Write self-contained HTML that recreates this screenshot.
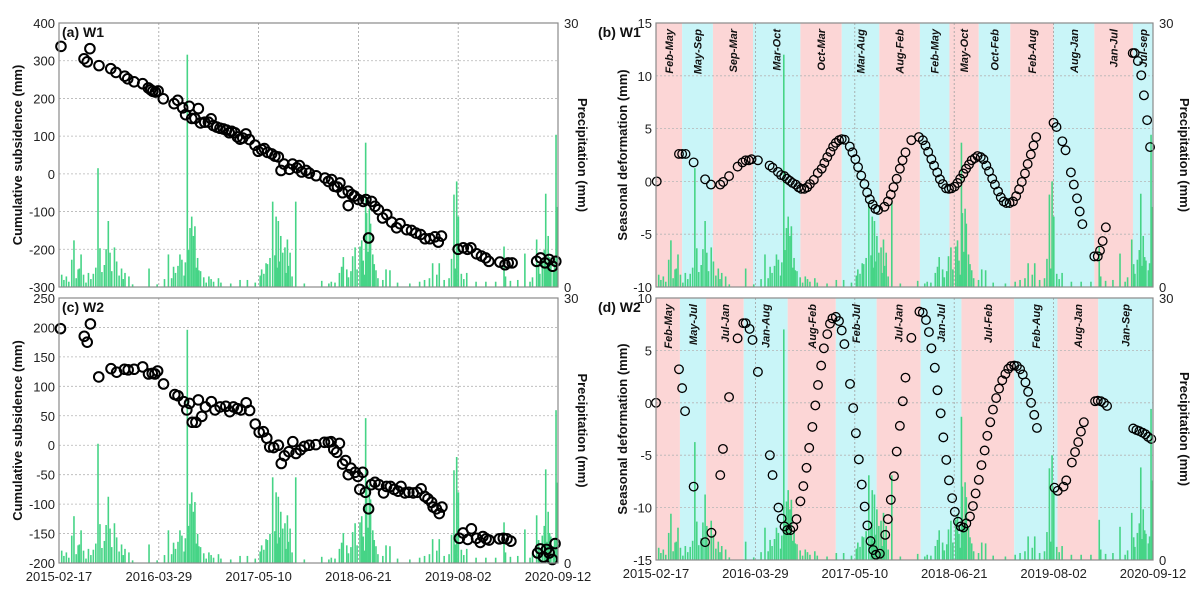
<!DOCTYPE html>
<html><head><meta charset="utf-8">
<style>
body{margin:0;background:#fff;}
svg{display:block;font-family:"Liberation Sans",Arial,sans-serif;}
</style></head>
<body>
<svg id="chart" width="1204" height="596" viewBox="0 0 1204 596" xmlns="http://www.w3.org/2000/svg"></svg>
<script>
const dateTicks = ["2015-02-17","2016-03-29","2017-05-10","2018-06-21","2019-08-02","2020-09-12"];
const totalDays = 2034;
const precipDays = [11,52,61,83,90,110,120,159,167,192,201,208,226,255,269,285,300,367,400,446,459,467,493,501,523,534,541,548,554,577,600,611,650,700,738,768,800,826,844,860,871,885,894,904,912,921,931,942,965,1000,1071,1100,1125,1143,1152,1159,1173,1197,1207,1227,1234,1250,1254,1265,1270,1279,1292,1333,1349,1380,1430,1470,1490,1510,1523,1550,1570,1590,1610,1621,1628,1662,1700,1740,1780,1814,1840,1870,1899,1920,1947,1960,1984,1994,2005,2026,2030];
const precipMm = [1.4,3.1,5.3,2.1,3.7,0.5,1.6,13.5,4.4,4.3,7.5,3.9,4.5,2.1,1.6,1.2,0.3,2.1,0.3,3.7,1.0,2.3,3.7,3.1,26.4,6.7,8.0,5.8,6.9,1.8,0.5,1.2,1.0,0.4,0.8,0.8,0.5,2.0,2.7,3.3,9.7,8.0,7.5,5.8,3.9,4.5,5.4,3.9,9.7,0.4,0.7,0.4,0.5,1.6,2.3,3.4,2.0,3.5,4.5,4.6,5.3,16.4,8.4,8.9,7.2,3.7,1.9,2.0,1.9,0.5,0.4,0.6,0.8,1.0,2.7,2.7,0.8,1.0,10.5,12.0,8.0,1.6,0.6,0.6,0.6,4.6,0.7,0.8,3.8,0.6,5.4,1.5,10.6,5.8,3.0,17.3,9.1];
const precipDays2 = [20,30,40,70,78,100,130,140,150,175,185,215,235,245,262,430,475,485,510,515,528,560,565,570,590,620,630,660,820,835,850,880,890,900,925,935,950,1110,1180,1190,1215,1240,1245,1260,1285,1300,1320,1540,1600,1615,1640,1650,1820,1930,1955,1970,1978,1990,2000,2015,2020];
const precipMm2 = [0.8,1.2,0.6,1.0,2.0,1.4,0.9,1.5,2.2,1.7,2.5,1.8,2.9,1.3,0.9,0.9,1.6,2.4,1.3,2.8,4.2,2.2,3.3,1.9,1.1,0.9,0.6,0.5,1.3,1.5,2.6,3.6,2.2,2.9,1.6,2.4,1.2,0.6,1.1,1.8,2.0,3.0,1.4,4.0,2.6,1.0,0.8,1.4,3.2,2.1,1.5,0.9,1.2,1.1,2.6,3.1,4.2,2.4,3.4,1.9,2.7];

const w1Days = [8,102,115,126,163,211,232,268,280,306,341,364,374,382,393,404,425,469,484,504,516,531,541,554,568,577,594,609,620,629,643,656,670,683,694,704,717,727,738,749,762,776,799,812,826,837,850,867,880,894,905,917,939,952,969,980,989,1007,1020,1048,1084,1098,1111,1122,1135,1145,1156,1179,1193,1204,1220,1179,1240,1251,1262,1274,1288,1302,1319,1336,1356,1376,1390,1417,1437,1455,1474,1492,1512,1532,1546,1559,1627,1648,1665,1679,1702,1722,1739,1752,1797,1818,1831,1847,1947,1963,1981,1998,2012,2025];
const w1Cum = [338,305,297,332,287,279,269,259,252,244,239,228,223,219,217,220,199,186,195,175,157,179,147,147,173,135,137,137,146,128,124,121,119,116,109,113,109,98,92,95,106,91,76,60,64,67,57,53,47,45,9,26,12,26,16,22,5,9,2,-5,-11,-20,-15,-33,-35,-24,-50,-46,-55,-59,-68,-84,-73,-68,-170,-73,-86,-95,-117,-108,-128,-143,-132,-148,-150,-157,-161,-172,-172,-167,-181,-165,-200,-196,-200,-196,-212,-218,-223,-232,-234,-241,-236,-236,-232,-223,-236,-227,-245,-232];

const w2Days = [6,103,115,128,162,212,235,267,282,306,341,365,380,391,402,426,472,485,508,521,532,543,558,568,582,597,621,636,657,680,696,711,727,742,763,777,800,816,833,847,859,875,894,906,919,937,953,966,984,1000,1020,1047,1082,1098,1109,1120,1132,1143,1156,1168,1179,1190,1207,1218,1226,1238,1249,1262,1273,1288,1304,1323,1335,1351,1366,1382,1394,1410,1426,1444,1460,1476,1491,1504,1519,1525,1538,1550,1561,1632,1647,1666,1681,1702,1717,1728,1741,1753,1795,1811,1826,1842,1951,1962,1975,1987,1998,2011,2022];
const w2Cum = [198,185,175,206,116,130,124,129,128,129,133,121,122,121,126,104,86,84,74,60,71,39,39,77,49,65,74,60,65,66,57,65,62,60,72,59,36,22,23,12,-3,-4,0,-31,-18,-11,6,-14,-8,-2,0,1,5,5,6,-7,-12,3,-32,-26,-50,-39,-46,-53,-75,-46,-80,-108,-67,-63,-67,-81,-70,-70,-75,-78,-70,-81,-80,-81,-80,-74,-87,-91,-97,-105,-108,-116,-105,-158,-149,-160,-142,-158,-165,-155,-159,-161,-159,-158,-159,-163,-183,-176,-190,-177,-183,-194,-167];

const w1sDays = [3,94,107,121,154,201,225,263,275,299,334,354,367,380,391,417,465,477,499,512,525,536,548,559,572,583,594,607,619,630,646,662,678,689,701,714,725,736,749,760,772,793,804,816,827,840,853,864,875,887,898,909,935,949,961,972,985,998,1009,1021,1045,1076,1092,1103,1114,1127,1138,1151,1162,1174,1187,1199,1210,1222,1234,1245,1258,1269,1281,1292,1305,1316,1329,1340,1352,1363,1376,1387,1400,1411,1423,1434,1447,1461,1474,1486,1497,1510,1521,1534,1545,1556,1627,1639,1663,1676,1698,1710,1723,1734,1745,1794,1808,1817,1828,1841,1951,1959,1972,1986,1997,2010,2022];
const w1Seas = [0,2.6,2.6,2.6,1.8,0.2,-0.3,-0.3,-0.05,0.5,1.4,1.8,2.0,2.0,2.1,2.0,1.5,1.3,0.9,0.6,0.5,0.25,0.05,-0.15,-0.3,-0.55,-0.7,-0.7,-0.55,-0.25,0.15,0.8,1.2,1.75,2.3,2.8,3.3,3.65,3.9,4.0,3.95,3.3,2.75,2.1,1.35,0.55,-0.25,-1.05,-1.7,-2.2,-2.6,-2.7,-2.4,-1.9,-1.25,-0.55,0.25,1.2,2.0,2.75,3.9,4.2,3.9,3.4,2.8,2.1,1.5,0.85,0.2,-0.25,-0.65,-0.7,-0.65,-0.5,-0.15,0.25,0.75,1.2,1.6,2.0,2.2,2.4,2.3,2.1,1.5,0.95,0.25,-0.3,-0.95,-1.5,-1.9,-2.05,-2.05,-1.9,-1.4,-0.75,-0.05,0.75,1.65,2.55,3.4,4.2,5.55,5.15,3.8,2.95,0.85,-0.3,-1.6,-2.85,-4.05,-7.1,-7.1,-6.55,-5.65,-4.35,12.15,12.15,11.4,10.05,8.15,5.8,3.25];

const w2sDays = [0,94,107,119,154,201,227,263,274,299,334,357,367,383,395,417,466,477,501,514,526,537,550,562,575,591,603,616,627,640,652,663,676,687,701,712,722,736,749,760,771,794,807,818,830,842,854,865,878,889,900,916,938,949,961,974,985,998,1010,1021,1045,1078,1092,1105,1117,1127,1141,1152,1165,1176,1188,1199,1212,1223,1236,1247,1258,1270,1285,1297,1308,1321,1332,1345,1356,1368,1379,1392,1404,1417,1430,1442,1453,1466,1477,1490,1501,1512,1523,1535,1548,1559,1631,1644,1668,1679,1702,1715,1728,1739,1751,1797,1808,1821,1833,1846,1953,1966,1978,1991,2003,2014,2027];
const w2Seas = [0,3.2,1.4,-0.8,-8.0,-13.3,-12.4,-6.9,-4.4,0.55,6.15,7.6,7.6,7.05,6.0,2.95,-5.0,-6.9,-10.0,-11.05,-11.8,-12.15,-12.15,-11.85,-11.1,-9.4,-7.95,-6.2,-4.3,-2.3,-0.25,1.7,3.55,5.2,6.55,7.55,8.05,8.2,7.8,6.9,5.6,1.8,-0.5,-2.9,-5.4,-7.8,-9.9,-11.7,-13.2,-14.05,-14.5,-14.4,-12.6,-11.1,-9.25,-7.0,-4.65,-2.2,0.15,2.4,6.2,8.7,8.6,7.9,6.75,5.2,3.35,1.2,-1.0,-3.3,-5.45,-7.4,-9.1,-10.4,-11.35,-11.8,-11.9,-11.5,-10.85,-9.85,-8.65,-7.35,-5.95,-4.55,-3.15,-1.85,-0.65,0.45,1.35,2.15,2.75,3.25,3.5,3.55,3.5,3.2,2.7,1.95,1.05,0.0,-1.15,-2.4,-8.1,-8.4,-8.0,-7.4,-5.7,-4.7,-3.75,-2.75,-1.85,0.15,0.2,0.15,0.0,-0.3,-2.45,-2.6,-2.7,-2.85,-3.0,-3.25,-3.45];

const bandsB = [0,107,233,397,591,760,914,1080,1201,1321,1450,1627,1794,1952,2034];
const bandLabelsB = ["Feb-May","May-Sep","Sep-Mar","Mar-Oct","Oct-Mar","Mar-Aug","Aug-Feb","Feb-May","May-Oct","Oct-Feb","Feb-Aug","Aug-Jan","Jan-Jul","Jul-sep"];
const bandsD = [0,98,205,359,539,736,903,1083,1250,1466,1643,1810,2034];
const bandLabelsD = ["Feb-May","May-Jul","Jul-Jan","Jan-Aug","Aug-Feb","Feb-Jul","Jul-Jan","Jan-Jul","Jul-Feb","Feb-Aug","Aug-Jan","Jan-Sep"];

const svg = document.getElementById('chart');
const NS = 'http://www.w3.org/2000/svg';
function mk(tag, attrs, parent){
  const e = document.createElementNS(NS, tag);
  for (const k in attrs) e.setAttribute(k, attrs[k]);
  (parent||svg).appendChild(e);
  return e;
}
function txt(s, attrs, parent){ const e = mk('text', attrs, parent); e.textContent = s; return e; }

function panel(P){
  const g = mk('g', {});
  
  
  const xs = d => P.x0 + d / totalDays * (P.x1 - P.x0);
  const ys = v => P.y1 - (v - P.vmin) / (P.vmax - P.vmin) * (P.y1 - P.y0);
  const yp = m => P.y1 - m / 30 * (P.y1 - P.y0);
  if (P.bands){
    for (let i = 0; i < P.bands.length - 1; i++){
      const r = mk('rect', {x: xs(P.bands[i]), y: P.y0, width: xs(P.bands[i+1]) - xs(P.bands[i]), height: P.y1 - P.y0, fill: i % 2 === 0 ? '#fcd6d6' : '#c9f5f8'}, g);
      
      
    }
  }
  for (let v = P.vmin + P.step; v < P.vmax; v += P.step){
    const l = mk('line', {x1: P.x0, x2: P.x1, y1: ys(v), y2: ys(v), stroke: '#b5b5b5', 'stroke-width': 0.8, 'stroke-dasharray': '2,2'}, g);
    
    
  }
  for (let i = 1; i < dateTicks.length - 1; i++){
    const x = P.x0 + i / (dateTicks.length - 1) * (P.x1 - P.x0);
    const l = mk('line', {x1: x, x2: x, y1: P.y0, y2: P.y1, stroke: '#a0a0a0', 'stroke-width': 0.8, 'stroke-dasharray': '2,2'}, g);
    
    
  }
  const drawBars = (days, mm) => {
    for (let i = 0; i < days.length; i++){
      const b = mk('rect', {x: xs(days[i]) - 0.8, y: yp(mm[i]), width: 1.6, height: P.y1 - yp(mm[i]), fill: '#46d486'}, g);
      
      
    }
  };
  drawBars(precipDays, precipMm);
  drawBars(precipDays2, precipMm2);
  if (P.bands){
    for (let i = 0; i < P.labels.length; i++){
      const cx = (xs(P.bands[i]) + xs(P.bands[i+1])) / 2 + 4;
      const t = txt(P.labels[i], {x: 0, y: 0, transform: `translate(${cx},${P.y0 + 6}) rotate(-90)`, 'text-anchor': 'end', 'font-size': 11, 'font-style': 'italic', 'font-weight': 'bold', fill: '#111'}, g);
      
      
    }
  }
  for (let i = 0; i < P.days.length; i++){
    const c = mk('circle', {cx: xs(P.days[i]), cy: ys(P.vals[i]), r: P.r, fill: 'none', stroke: '#000', 'stroke-width': P.sw}, g);
    
    
  }
  const f = mk('rect', {x: P.x0, y: P.y0, width: P.x1 - P.x0, height: P.y1 - P.y0, fill: 'none', stroke: '#8a8a8a', 'stroke-width': 1.2}, g);
  
  
  for (let v = P.vmin; v <= P.vmax; v += P.step){
    const t = txt(String(v), {x: P.x0 - 4, y: ys(v) + 5, 'text-anchor': 'end', 'font-size': 13, fill: '#222'}, g);
    
    
  }
  const r30 = txt('30', {x: P.x1 + 6, y: P.y0 + 5, 'font-size': 13, fill: '#222'}, g);
  
  
  const r0 = txt('0', {x: P.x1 + 6, y: P.y1 + 5, 'font-size': 13, fill: '#222'}, g);
  
  
  const cy = (P.y0 + P.y1) / 2;
  const yt = txt(P.ytitle, {x: 0, y: 0, transform: `translate(${P.ytx},${cy}) rotate(-90)`, 'text-anchor': 'middle', 'font-size': 13, 'font-weight': 'bold', fill: '#111'}, g);
  
  
  const y2 = txt('Precipitation (mm)', {x: 0, y: 0, transform: `translate(${P.y2x},${cy}) rotate(90)`, 'text-anchor': 'middle', 'font-size': 13, 'font-weight': 'bold', fill: '#111'}, g);
  
  
  const pl = txt(P.tag, {x: P.tagx, y: P.y0 + 14, 'font-size': 14, 'font-weight': 'bold', fill: '#111'}, g);
  
  
  if (P.xlabels){
    for (let i = 0; i < dateTicks.length; i++){
      const x = P.x0 + i / (dateTicks.length - 1) * (P.x1 - P.x0);
      const t = txt(dateTicks[i], {x: x, y: P.y1 + 18, 'text-anchor': 'middle', 'font-size': 13, fill: '#222'}, g);
      
      
    }
  }
}
panel({name:'panel-a', x0:59, x1:558, y0:23, y1:287, vmin:-300, vmax:400, step:100, days:w1Days, vals:w1Cum, r:4.8, sw:2, ytitle:'Cumulative subsidence (mm)', ytx:22, y2x:578, tag:'(a) W1', tagx:62});
panel({name:'panel-c', x0:59, x1:558, y0:298, y1:563, vmin:-200, vmax:250, step:50, days:w2Days, vals:w2Cum, r:4.8, sw:2, ytitle:'Cumulative subsidence (mm)', ytx:22, y2x:578, tag:'(c) W2', tagx:62, xlabels:true});
panel({name:'panel-b', x0:656, x1:1153, y0:23, y1:287, vmin:-10, vmax:15, step:5, days:w1sDays, vals:w1Seas, r:4.3, sw:1.3, bands:bandsB, labels:bandLabelsB, ytitle:'Seasonal deformation (mm)', ytx:627, y2x:1180, tag:'(b) W1', tagx:598});
panel({name:'panel-d', x0:656, x1:1153, y0:298, y1:560, vmin:-15, vmax:10, step:5, days:w2sDays, vals:w2Seas, r:4.3, sw:1.3, bands:bandsD, labels:bandLabelsD, ytitle:'Seasonal deformation (mm)', ytx:627, y2x:1180, tag:'(d) W2', tagx:598, xlabels:true});
</script>
</body></html>
